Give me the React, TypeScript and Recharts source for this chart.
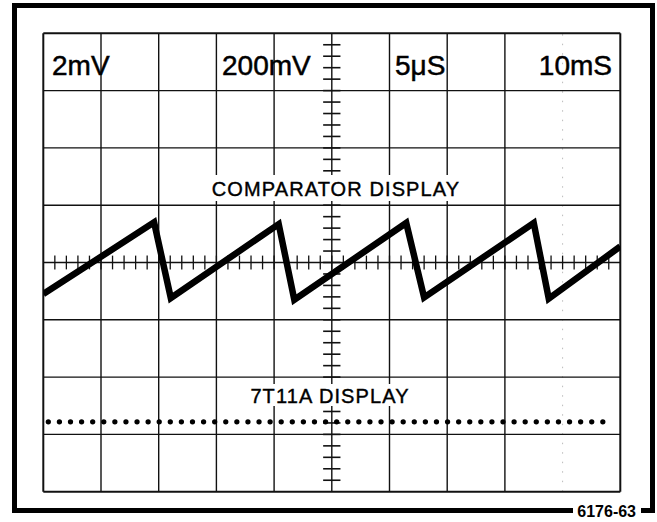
import React from 'react';
import { ComposedChart, Line, XAxis, YAxis, ReferenceLine } from 'recharts';

// Graticule units: x 0..10 divisions, y -4..4 divisions
const sawX = [0, 1.92, 2.21, 4.08, 4.35, 6.29, 6.6, 8.5, 8.76, 10];
const sawY = [-0.55, 0.7, -0.62, 0.67, -0.65, 0.69, -0.61, 0.69, -0.63, 0.28];

const dotX = [0.087, 9.886];
const dotY = [-2.78, -2.78];

const gridX = [1, 2, 3, 4, 5, 6, 7, 8];
const faintGridX = [9];
const gridY = [-3, -2, -1, 0, 1, 2, 3];
const frameX = [0, 10];
const frameY = [-4, 4];
const minorX = Array.from({ length: 49 }, (_, i) => +((i + 1) * 0.2).toFixed(1));
const minorY = Array.from({ length: 39 }, (_, i) => +(-3.8 + i * 0.2).toFixed(1));

const topLabels = ['2mV', '200mV', '5\u03bcS', '10mS'];
const traceLabels = ['COMPARATOR DISPLAY', '7T11A DISPLAY'];
const figureId = '6176-63';

const sawData = sawX.map((x, i) => ({ x, y: sawY[i] }));
const dotData = dotX.map((x, i) => ({ x, y: dotY[i] }));

const W = 657;
const H = 522;
const INK = '#111';
const FONT = '"Liberation Sans", Arial, Helvetica, sans-serif';

export default function App() {
  return (
    <div style={{ position: 'absolute', left: 0, top: 0, width: W, height: H, background: '#fff' }}>
      <ComposedChart
        width={W}
        height={H}
        margin={{ top: 33.3, right: 36.7, bottom: 30.3, left: 43.3 }}
      >
        <XAxis type="number" dataKey="x" domain={[0, 10]} hide allowDataOverflow />
        <YAxis type="number" dataKey="y" domain={[-4, 4]} hide allowDataOverflow />
        {gridX.map((v) => (
          <ReferenceLine key={'gx' + v} x={v} stroke={INK} strokeWidth={1.4} />
        ))}
        {faintGridX.map((v) => (
          <ReferenceLine key={'fx' + v} x={v} stroke="#bbb" strokeWidth={1} strokeDasharray="1.5 8" />
        ))}
        {gridY.map((v) => (
          <ReferenceLine key={'gy' + v} y={v} stroke={INK} strokeWidth={1.4} />
        ))}
        {frameX.map((v) => (
          <ReferenceLine key={'bx' + v} x={v} stroke={INK} strokeWidth={2} />
        ))}
        {frameY.map((v) => (
          <ReferenceLine key={'by' + v} y={v} stroke={INK} strokeWidth={2} />
        ))}
        {minorX.map((v) => (
          <ReferenceLine
            key={'mx' + v}
            segment={[{ x: v, y: -0.12 }, { x: v, y: 0.12 }]}
            stroke={INK}
            strokeWidth={1.3}
          />
        ))}
        {minorY.map((v) => (
          <ReferenceLine
            key={'my' + v}
            segment={[{ x: 4.85, y: v }, { x: 5.15, y: v }]}
            stroke={INK}
            strokeWidth={1.6}
          />
        ))}
        <Line
          data={sawData}
          dataKey="y"
          type="linear"
          stroke="#000"
          strokeWidth={6.5}
          strokeLinejoin="miter"
          dot={false}
          activeDot={false}
          isAnimationActive={false}
        />
        <Line
          data={dotData}
          dataKey="y"
          type="linear"
          stroke="#000"
          strokeWidth={5.3}
          strokeLinecap="round"
          strokeDasharray="0 11.09"
          dot={false}
          activeDot={false}
          isAnimationActive={false}
        />
      </ComposedChart>
      <svg
        width={W}
        height={H}
        style={{ position: 'absolute', left: 0, top: 0, pointerEvents: 'none' }}
        fontFamily={FONT}
      >
        <rect x={14.5} y={5.5} width={638} height={505} fill="none" stroke="#000" strokeWidth={5} />
        <g fontSize={28} fill="#000" stroke="#000" strokeWidth={0.5}>
          <text x={52} y={75}>{topLabels[0]}</text>
          <text x={222} y={75}>{topLabels[1]}</text>
          <text x={395} y={75}>{topLabels[2]}</text>
          <text x={612} y={75} textAnchor="end">{topLabels[3]}</text>
        </g>
        <rect x={206} y={175} width={260} height={26} fill="#fff" />
        <rect x={244} y={384} width={172} height={22} fill="#fff" />
        <g fontSize={20} fill="#000" stroke="#000" strokeWidth={0.4} letterSpacing={1.1}>
          <text x={336} y={196} textAnchor="middle">{traceLabels[0]}</text>
          <text x={330} y={403} textAnchor="middle">{traceLabels[1]}</text>
        </g>
        <rect x={573} y={501} width={68} height={21} fill="#fff" />
        <text x={636} y={517} textAnchor="end" fontSize={16} fontWeight="bold" fill="#000">
          {figureId}
        </text>
      </svg>
    </div>
  );
}
